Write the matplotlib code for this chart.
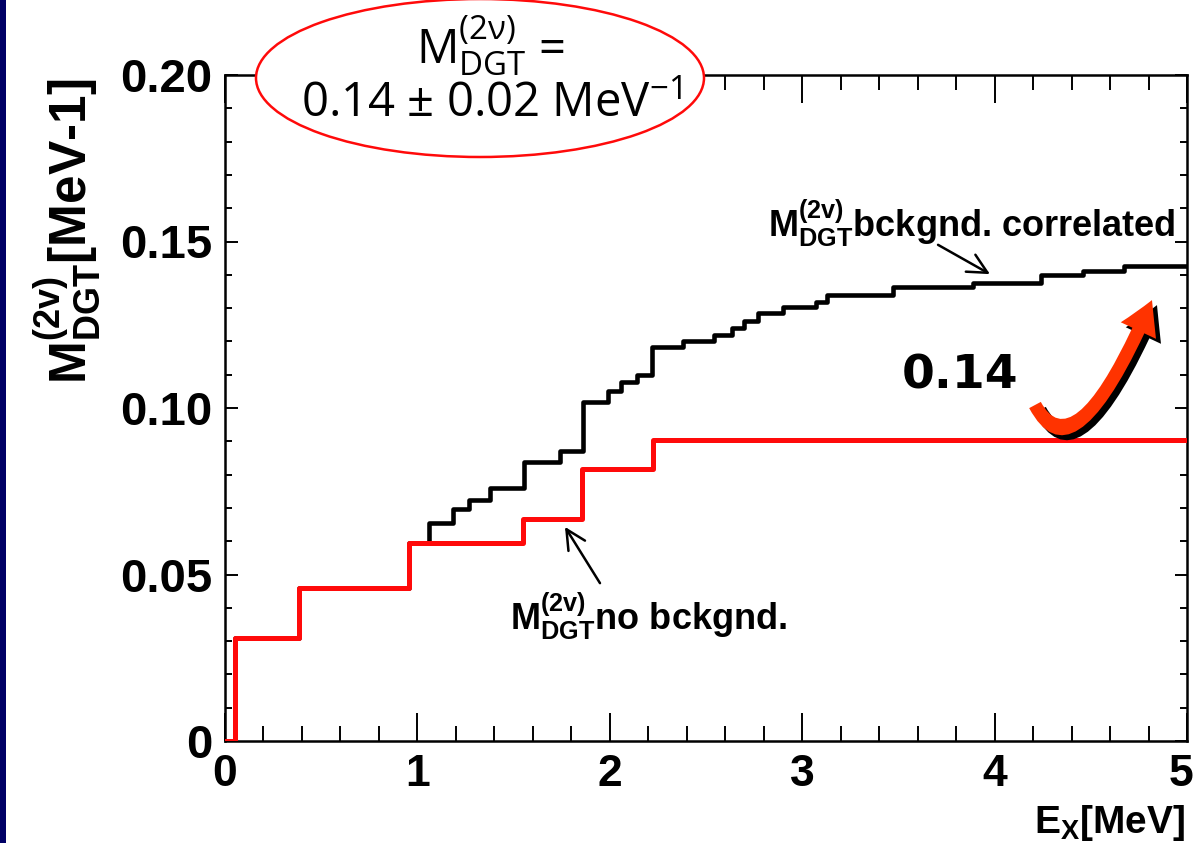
import matplotlib
matplotlib.use("Agg")
import matplotlib.pyplot as plt
from matplotlib.patches import Ellipse, Rectangle, FancyArrowPatch
from matplotlib.path import Path
from matplotlib.ticker import MultipleLocator, FixedFormatter, FixedLocator
from matplotlib.transforms import ScaledTranslation

plt.rcParams["font.family"] = ["Liberation Sans", "DejaVu Sans"]
plt.rcParams["font.weight"] = "bold"
plt.rcParams["mathtext.fontset"] = "custom"
plt.rcParams["mathtext.rm"] = "Liberation Sans:normal"
plt.rcParams["mathtext.bf"] = "Liberation Sans:bold"
plt.rcParams["mathtext.sf"] = "Open Sans:normal"

# M_DGT(2v) running sum, no background (step edges in MeV / values in MeV^-1)
ex_nobg = [0.0, 0.052, 0.385, 0.956, 1.55, 1.855, 2.225, 5.0]
m_nobg = [0.0, 0.031, 0.046, 0.0595, 0.0667, 0.0817, 0.0904, 0.0904]

# M_DGT(2v) running sum, background correlated
ex_corr = [0.0, 0.052, 0.385, 0.956, 1.06, 1.186, 1.27, 1.377, 1.553, 1.74,
           1.86, 1.99, 2.06, 2.14, 2.22, 2.38, 2.54, 2.635, 2.70, 2.77,
           2.90, 3.07, 3.13, 3.47, 3.89, 4.24, 4.46, 4.67, 5.0]
m_corr = [0.0, 0.031, 0.046, 0.0595, 0.0654, 0.0697, 0.0724, 0.076, 0.0838, 0.087,
          0.1018, 0.105, 0.1078, 0.110, 0.1183, 0.120, 0.122, 0.124, 0.126, 0.1285,
          0.1303, 0.1318, 0.134, 0.1363, 0.1375, 0.140, 0.141, 0.1426, 0.1426]

x_ticks = [0, 1, 2, 3, 4, 5]
y_ticks = [0, 0.05, 0.10, 0.15, 0.20]
y_ticklabels = ["0", "0.05", "0.10", "0.15", "0.20"]

fig = plt.figure(figsize=(11.95, 8.43), dpi=100)
ax = fig.add_axes([225 / 1195, 1 - 741 / 843, 962 / 1195, 666 / 843])

ax.step(ex_corr, m_corr, where="post", color="black", lw=3.3, zorder=2)
ax.step(ex_nobg, m_nobg, where="post", color="#ff0a0a", lw=3.6, zorder=3)

ax.set_xlim(0, 5)
ax.set_ylim(0, 0.20)
ax.xaxis.set_major_locator(FixedLocator(x_ticks))
ax.xaxis.set_minor_locator(MultipleLocator(0.2))
ax.yaxis.set_major_locator(FixedLocator(y_ticks))
ax.yaxis.set_major_formatter(FixedFormatter(y_ticklabels))
ax.yaxis.set_minor_locator(MultipleLocator(0.01))

for s in ax.spines.values():
    s.set_linewidth(1.8)
ax.tick_params(which="both", direction="in", top=True, right=True, width=1.4)
ax.tick_params(axis="x", which="major", length=20, pad=9, labelsize=32)
ax.tick_params(axis="x", which="minor", length=11)
ax.tick_params(axis="y", which="major", length=9, pad=9, labelsize=34)
ax.tick_params(axis="y", which="minor", length=5)

# last x label sits on the figure edge, nudge it a bit left
last = ax.xaxis.get_major_ticks()[-1].label1
last.set_transform(last.get_transform() + ScaledTranslation(-0.06, 0, fig.dpi_scale_trans))

ax.set_xlabel(r"E$_{\mathbf{X}}$[MeV]", fontsize=28, fontweight="bold")
ax.xaxis.set_label_coords(0.998, -0.093)
ax.xaxis.label.set_ha("right")
ax.set_ylabel(r"M$^{\mathbf{(2v)}}_{\mathbf{DGT}}$[MeV-1]", fontsize=37, fontweight="bold")
ax.yaxis.set_label_coords(-0.128, 0.765)

# annotations
arrow_kw = dict(arrowstyle="->,head_length=0.7,head_width=0.35", color="black",
                lw=1.8, shrinkA=0, shrinkB=0, mutation_scale=20)
ax.text(2.82, 0.1513, r"M$^{\mathbf{(2v)}}_{\mathbf{DGT}}$bckgnd. correlated",
        fontsize=26, fontweight="bold", va="baseline")
ax.annotate("", xy=(3.976, 0.1402), xytext=(3.706, 0.149), arrowprops=arrow_kw)
ax.text(1.48, 0.0333, r"M$^{\mathbf{(2v)}}_{\mathbf{DGT}}$no bckgnd.",
        fontsize=26, fontweight="bold", va="baseline")
ax.annotate("", xy=(1.767, 0.0643), xytext=(1.949, 0.0474), arrowprops=arrow_kw)

ax.text(3.82, 0.106, "0.14", fontsize=34, fontweight="bold",
        family="DejaVu Sans", ha="center", va="baseline")

# curved arrow with shadow
arrow_path = Path([(4.21, 0.1009), (4.418, 0.0784), (4.818, 0.1324)],
                  [Path.MOVETO, Path.CURVE3, Path.CURVE3])
style = "simple,head_length=24,head_width=28,tail_width=9.5"
shadow = FancyArrowPatch(path=arrow_path, arrowstyle=style, mutation_scale=1,
                         color="black", lw=0, zorder=4,
                         transform=ax.transData + ScaledTranslation(0.05, -0.05, fig.dpi_scale_trans))
ax.add_patch(shadow)
red_arrow = FancyArrowPatch(path=arrow_path, arrowstyle=style, mutation_scale=1,
                            color="#ff3300", lw=0, zorder=5, transform=ax.transData)
ax.add_patch(red_arrow)

# ellipse with the result
ell = Ellipse((480 / 1195, 1 - 78 / 843), 448 / 1195, 158 / 843,
              transform=fig.transFigure, facecolor="white", edgecolor="#ff0a0a",
              lw=1.8, zorder=10)
fig.add_artist(ell)
fig.text(490 / 1195, 1 - 64 / 843, r"$\mathsf{M}_{\mathsf{DGT}}^{\mathsf{(2ν)}}$ =",
         fontsize=34, family="Open Sans", fontweight="normal",
         ha="center", va="baseline", zorder=11)
fig.text(491 / 1195, 1 - 117 / 843, r"0.14 ± 0.02 MeV$^{\mathsf{-1}}$",
         fontsize=34, family="Open Sans", fontweight="normal",
         ha="center", va="baseline", zorder=11)

# navy slide border
fig.add_artist(Rectangle((0, 0), 6 / 1195, 1, transform=fig.transFigure,
                         facecolor="#000066", edgecolor="none", zorder=12))

fig.savefig("out.png", dpi=100)
